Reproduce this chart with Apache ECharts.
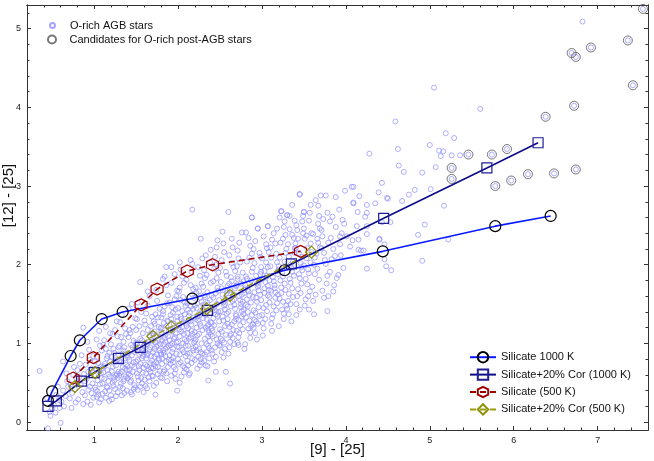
<!DOCTYPE html>
<html>
<head>
<meta charset="utf-8">
<title>[12]-[25] vs [9]-[25]</title>
<script src="https://cdn.jsdelivr.net/npm/echarts@6/dist/echarts.min.js"></script>
<style>
  html, body { margin: 0; padding: 0; background: #fff; }
  #chart { width: 654px; height: 461px; }
</style>
</head>
<body>
<div id="chart"></div>
<script>
// tick labels
const xTicks = [1, 2, 3, 4, 5, 6, 7];
const yTicks = [0, 1, 2, 3, 4, 5];
const xMinor = [0.4, 0.6, 0.8, 1.2, 1.4, 1.6, 1.8, 2.2, 2.4, 2.6, 2.8, 3.2, 3.4, 3.6, 3.8, 4.2, 4.4, 4.6, 4.8,
  5.2, 5.4, 5.6, 5.8, 6.2, 6.4, 6.6, 6.8, 7.2, 7.4];
const yMinor = [0.2, 0.4, 0.6, 0.8, 1.2, 1.4, 1.6, 1.8, 2.2, 2.4, 2.6, 2.8, 3.2, 3.4, 3.6, 3.8, 4.2, 4.4, 4.6, 4.8, 5.2];

// O-rich AGB stars, [9]-[25] vs [12]-[25]
const agbLow = [
  [0.35,0.65],[0.45,-0.08],[0.47,0.13],[0.48,0.08],[0.60,-0.01],[0.50,0.17],[0.44,0.30],
  [0.52,0.22],[0.55,0.35],[0.58,0.28],[0.57,0.45],[0.54,0.12],[0.59,0.18],
  [0.61,0.26],[0.63,0.40],[0.66,0.33],[0.68,0.52],[0.64,0.20],[0.69,0.45],[0.63,0.77],[0.67,0.62],
  [0.71,0.30],[0.72,0.48],[0.74,0.37],[0.75,0.60],[0.77,0.42],[0.78,0.25],[0.79,0.55],[0.76,0.70],[0.73,0.18],
  [0.84,0.47],[0.81,0.29],[0.88,0.61],[0.83,0.74],[0.86,0.38],[0.89,0.52],[0.80,0.66],[0.87,0.23],[0.85,0.85],[0.82,0.57],[0.89,0.34],[0.87,1.20],
  [0.93,0.41],[0.97,0.68],[0.91,0.55],[0.99,0.31],[0.95,0.79],[0.92,0.26],[0.98,0.49],[0.94,0.92],[0.96,0.60],[0.90,0.73],[0.97,0.37],[0.93,0.64],[0.99,0.84],[0.95,0.45],[0.92,1.02],[0.96,0.22],
  [1.04,0.53],[1.08,0.29],[1.01,0.77],[1.06,0.64],[1.09,0.91],[1.02,0.41],[1.07,0.48],[1.03,1.05],[1.05,0.35],[1.00,0.59],[1.08,0.71],[1.04,0.83],[1.06,0.25],[1.09,0.56],[1.02,0.68],[1.07,0.97],[1.01,0.44],[1.05,0.75],[1.03,0.32],[1.08,0.62],[1.06,1.16],[1.04,0.39],
  [1.16,0.44],[1.12,0.71],[1.19,0.58],[1.10,0.36],[1.14,0.93],[1.18,0.27],[1.11,0.63],[1.15,0.81],[1.17,0.52],[1.13,0.39],[1.19,0.77],[1.12,1.04],[1.16,0.66],[1.10,0.49],[1.18,0.88],[1.14,0.31],[1.11,0.98],[1.17,0.61],[1.15,0.45],[1.13,0.74],[1.19,1.13],[1.12,0.55],[1.16,0.84],[1.10,0.69],[1.18,0.40],[1.14,1.21],
  [1.27,0.61],[1.21,0.83],[1.25,0.42],[1.29,0.95],[1.23,0.57],[1.20,0.34],[1.26,0.72],[1.28,1.09],[1.22,0.50],[1.24,0.88],[1.29,0.64],[1.21,0.29],[1.27,0.79],[1.25,1.17],[1.23,0.46],[1.26,0.59],[1.20,0.99],[1.28,0.38],[1.22,0.70],[1.24,0.53],[1.29,0.86],[1.21,0.65],[1.27,1.28],[1.25,0.76],[1.23,0.93],[1.26,0.33],[1.28,0.56],[1.22,1.12],
  [1.32,0.49],[1.38,0.73],[1.35,1.02],[1.31,0.62],[1.39,0.40],[1.34,0.87],[1.36,0.55],[1.30,0.78],[1.37,1.19],[1.33,0.34],[1.39,0.66],[1.35,0.91],[1.31,0.45],[1.37,0.81],[1.32,1.08],[1.38,0.58],[1.34,0.70],[1.30,0.97],[1.36,0.37],[1.33,0.64],[1.39,0.85],[1.35,0.52],[1.31,1.27],[1.37,0.68],[1.32,0.76],[1.38,1.12],[1.34,0.43],[1.36,0.95],[1.30,0.59],[1.33,1.36],
  [1.46,0.64],[1.41,0.88],[1.48,0.47],[1.43,1.13],[1.45,0.72],[1.40,0.56],[1.49,0.93],[1.44,0.38],[1.42,0.79],[1.47,1.03],[1.41,0.61],[1.45,0.85],[1.48,0.70],[1.43,0.51],[1.46,1.21],[1.40,0.82],[1.49,0.44],[1.44,0.98],[1.42,0.66],[1.47,0.76],[1.41,1.08],[1.45,0.35],[1.48,0.89],[1.43,0.59],[1.46,0.95],[1.40,0.71],[1.49,1.32],[1.44,0.53],[1.42,1.17],[1.47,0.42],[1.41,1.44],[1.45,1.50]
];
const agbMid = [
  [1.58,0.84],[1.52,0.58],[1.55,1.06],[1.50,0.77],[1.57,0.49],[1.53,0.95],[1.59,0.69],[1.54,1.22],[1.51,0.62],[1.56,0.88],[1.58,1.13],[1.52,0.41],[1.55,0.74],[1.50,1.01],[1.57,0.81],[1.53,0.53],[1.59,0.97],[1.54,0.66],[1.51,1.31],[1.56,0.56],[1.58,0.90],[1.52,0.79],[1.55,0.45],[1.50,1.17],[1.57,1.04],[1.53,0.71],[1.59,0.38],[1.54,0.86],[1.51,0.99],[1.56,1.40],[1.58,0.63],[1.52,1.52],[1.55,1.78],[1.57,0.92],
  [1.63,0.71],[1.68,1.05],[1.61,0.89],[1.66,0.52],[1.64,1.17],[1.69,0.78],[1.62,0.62],[1.67,0.95],[1.60,1.29],[1.65,0.67],[1.68,0.84],[1.61,0.46],[1.66,1.10],[1.63,0.99],[1.69,0.59],[1.62,1.38],[1.67,0.75],[1.64,0.87],[1.60,0.54],[1.65,1.02],[1.68,1.22],[1.61,0.73],[1.66,0.92],[1.63,0.43],[1.69,1.13],[1.62,0.81],[1.67,0.64],[1.64,1.48],[1.60,0.97],[1.65,0.57],[1.68,0.69],[1.61,1.24],[1.66,1.60],[1.63,0.85],[1.69,1.34],[1.64,1.66],
  [1.74,0.96],[1.70,0.68],[1.77,1.21],[1.72,0.83],[1.79,0.57],[1.75,1.09],[1.71,0.74],[1.78,0.91],[1.73,1.37],[1.76,0.61],[1.70,1.03],[1.77,0.79],[1.72,1.15],[1.79,0.88],[1.74,0.50],[1.71,1.28],[1.76,0.98],[1.73,0.71],[1.78,1.44],[1.75,0.86],[1.70,0.58],[1.77,1.06],[1.72,0.93],[1.79,1.19],[1.74,0.76],[1.71,0.46],[1.76,1.33],[1.73,1.01],[1.78,0.65],[1.75,1.54],[1.70,0.89],[1.77,0.81],[1.72,1.25],[1.79,0.99],[1.74,1.68],[1.71,1.12],[1.76,0.70],[1.73,0.35],
  [1.85,1.02],[1.81,0.74],[1.88,1.28],[1.83,0.88],[1.86,0.62],[1.80,1.14],[1.87,0.95],[1.82,1.41],[1.89,0.79],[1.84,1.07],[1.81,0.56],[1.86,1.22],[1.83,0.99],[1.88,0.70],[1.80,1.33],[1.85,0.84],[1.87,1.51],[1.82,0.91],[1.89,1.17],[1.84,0.66],[1.81,1.04],[1.86,0.77],[1.83,1.26],[1.88,1.61],[1.80,0.86],[1.85,1.11],[1.87,0.52],[1.82,1.37],[1.89,0.97],[1.84,1.47],[1.81,0.81],[1.86,1.74],[1.83,0.64],[1.88,1.09],[1.80,1.20],[1.85,0.93],[1.87,1.29],[1.82,1.82],[1.84,1.85],[1.86,1.97],
  [1.96,1.08],[1.92,0.79],[1.99,1.34],[1.94,0.93],[1.91,1.18],[1.97,0.67],[1.93,1.46],[1.98,1.01],[1.90,0.85],[1.95,1.25],[1.92,0.59],[1.99,0.96],[1.94,1.39],[1.97,1.13],[1.91,0.74],[1.96,1.56],[1.93,0.89],[1.98,1.21],[1.90,1.04],[1.95,0.70],[1.92,1.31],[1.99,1.67],[1.94,0.82],[1.97,1.43],[1.91,0.98],[1.96,0.62],[1.93,1.15],[1.98,0.87],[1.90,1.52],[1.95,1.06],[1.92,1.77],[1.99,1.28],[1.94,0.76],[1.97,0.55],[1.91,1.36],[1.96,1.88],[1.93,1.00],[1.98,1.60],[1.92,1.97],[1.99,0.40],
  [2.07,1.12],[2.02,0.86],[2.05,1.41],[2.09,0.97],[2.01,1.23],[2.06,0.71],[2.03,1.55],[2.08,1.05],[2.00,0.80],[2.04,1.31],[2.07,0.63],[2.02,1.18],[2.09,1.48],[2.05,0.92],[2.01,1.66],[2.06,1.27],[2.03,0.76],[2.08,1.37],[2.00,1.02],[2.04,0.58],[2.07,1.77],[2.02,1.09],[2.09,0.84],[2.05,1.21],[2.01,0.95],[2.06,1.59],[2.03,1.34],[2.08,0.69],[2.00,1.45],[2.04,1.15],[2.07,0.89],[2.02,1.71],[2.09,1.26],[2.05,1.85],[2.01,0.74],[2.06,1.00],[2.03,1.94],[2.08,1.52],[2.02,2.03],[2.02,0.50],
  [2.12,1.19],[2.18,0.91],[2.15,1.47],[2.10,1.03],[2.16,0.75],[2.13,1.30],[2.19,1.58],[2.11,0.87],[2.17,1.12],[2.14,1.39],[2.10,0.67],[2.16,1.24],[2.12,0.97],[2.18,1.69],[2.15,1.08],[2.11,1.51],[2.17,0.81],[2.13,1.35],[2.19,1.01],[2.14,0.62],[2.10,1.81],[2.16,1.16],[2.12,1.43],[2.18,0.94],[2.15,1.28],[2.11,0.78],[2.17,1.62],[2.13,1.06],[2.19,1.33],[2.14,0.88],[2.10,1.22],[2.16,1.91],[2.12,0.72],[2.18,1.44],[2.15,1.74],[2.11,1.13],[2.17,2.01],[2.13,0.60],[2.15,2.06],[2.17,2.70],
  [2.26,1.25],[2.21,0.96],[2.28,1.53],[2.23,1.10],[2.20,0.79],[2.25,1.38],[2.29,1.17],[2.22,1.64],[2.27,0.89],[2.24,1.29],[2.20,1.48],[2.26,0.72],[2.21,1.05],[2.28,1.76],[2.23,1.34],[2.25,0.93],[2.29,1.42],[2.22,1.20],[2.27,1.58],[2.24,0.83],[2.20,1.14],[2.26,1.86],[2.21,1.31],[2.28,1.00],[2.23,0.68],[2.25,1.66],[2.29,0.87],[2.22,1.45],[2.27,1.22],[2.24,1.97],[2.20,1.03],[2.26,1.36],[2.21,1.71],[2.28,0.76],[2.23,1.51],[2.25,1.12],[2.29,2.08],[2.22,0.91],[2.27,2.33],[2.27,0.80],
  [2.34,1.31],[2.38,1.03],[2.31,1.61],[2.36,1.17],[2.32,0.86],[2.39,1.44],[2.35,1.22],[2.30,1.72],[2.37,0.94],[2.33,1.36],[2.38,1.55],[2.31,0.78],[2.36,1.09],[2.32,1.83],[2.39,1.27],[2.34,0.99],[2.30,1.49],[2.35,1.65],[2.37,1.14],[2.33,0.72],[2.38,1.39],[2.31,1.93],[2.36,1.24],[2.32,1.06],[2.39,1.77],[2.34,0.89],[2.30,1.32],[2.35,1.52],[2.37,0.81],[2.33,1.20],[2.38,2.03],[2.31,1.42],[2.36,0.97],[2.32,1.59],[2.39,1.11],[2.34,1.87],[2.36,0.53],[2.35,0.71],[2.39,2.19],[2.33,2.12],
  [2.45,1.37],[2.41,1.09],[2.48,1.67],[2.43,1.23],[2.40,0.91],[2.46,1.50],[2.49,1.28],[2.42,1.79],[2.47,1.00],[2.44,1.42],[2.40,1.61],[2.45,0.83],[2.41,1.16],[2.48,1.90],[2.43,1.46],[2.46,1.05],[2.49,1.55],[2.42,1.32],[2.47,1.71],[2.44,0.95],[2.40,1.26],[2.45,2.00],[2.41,1.44],[2.48,1.12],[2.43,0.77],[2.46,1.83],[2.49,0.98],[2.42,1.58],[2.47,1.35],[2.44,2.10],[2.40,1.19],[2.45,1.64],[2.41,0.87],[2.48,1.40],[2.43,1.95],[2.46,2.22],[2.45,0.64],[2.47,2.31]
];
const agbHigh = [
  [2.56,1.43],[2.52,1.15],[2.59,1.73],[2.54,1.29],[2.50,0.97],[2.57,1.56],[2.53,1.34],[2.58,1.86],[2.51,1.06],[2.55,1.48],[2.59,1.67],[2.52,0.89],[2.56,1.22],[2.50,1.96],[2.54,1.52],[2.57,1.11],[2.53,1.62],[2.58,1.38],[2.51,1.78],[2.55,1.01],[2.59,1.31],[2.52,2.06],[2.56,1.50],[2.50,1.18],[2.54,0.82],[2.57,1.91],[2.53,1.04],[2.58,1.64],[2.51,1.41],[2.55,2.16],[2.59,1.25],[2.52,1.70],[2.56,0.93],[2.54,2.27],[2.57,0.64],[2.53,2.42],
  [2.67,1.49],[2.61,1.21],[2.64,1.79],[2.69,1.35],[2.62,1.02],[2.66,1.62],[2.60,1.40],[2.68,1.92],[2.63,1.12],[2.65,1.54],[2.69,1.73],[2.61,0.95],[2.67,1.28],[2.64,2.02],[2.60,1.58],[2.66,1.17],[2.62,1.68],[2.68,1.44],[2.63,1.84],[2.65,1.07],[2.69,1.37],[2.61,2.12],[2.67,1.56],[2.64,1.24],[2.60,0.87],[2.66,1.97],[2.62,1.10],[2.68,1.70],[2.63,1.47],[2.65,2.22],[2.69,1.31],[2.61,1.76],[2.67,0.99],[2.64,2.33],[2.62,0.49],[2.60,2.67],
  [2.74,1.55],[2.78,1.27],[2.71,1.85],[2.76,1.41],[2.72,1.08],[2.79,1.68],[2.75,1.46],[2.70,1.98],[2.77,1.18],[2.73,1.60],[2.78,1.79],[2.71,1.01],[2.76,1.34],[2.72,2.08],[2.79,1.64],[2.74,1.23],[2.70,1.74],[2.75,1.50],[2.77,1.90],[2.73,1.13],[2.78,1.43],[2.71,2.18],[2.76,1.62],[2.72,1.30],[2.79,0.93],[2.74,2.03],[2.70,1.16],[2.75,1.76],[2.77,1.53],[2.73,2.28],[2.78,1.37],[2.71,1.82],[2.76,2.41],[2.72,0.98],
  [2.85,1.61],[2.81,1.33],[2.88,1.91],[2.83,1.47],[2.86,1.14],[2.80,1.74],[2.87,1.52],[2.82,2.04],[2.89,1.24],[2.84,1.66],[2.81,1.85],[2.86,1.07],[2.83,1.40],[2.88,2.14],[2.80,1.70],[2.85,1.29],[2.87,1.80],[2.82,1.56],[2.89,1.96],[2.84,1.19],[2.81,1.49],[2.86,2.24],[2.83,1.68],[2.88,1.36],[2.80,0.99],[2.85,2.09],[2.87,1.22],[2.82,1.82],[2.89,1.59],[2.84,2.34],[2.81,2.41],[2.88,2.60],
  [2.96,1.67],[2.92,1.39],[2.99,1.97],[2.94,1.53],[2.90,1.20],[2.97,1.80],[2.93,1.58],[2.98,2.10],[2.91,1.30],[2.95,1.72],[2.99,1.91],[2.92,1.13],[2.96,1.46],[2.90,2.20],[2.94,1.76],[2.97,1.35],[2.93,1.86],[2.98,1.62],[2.91,2.02],[2.95,1.25],[2.99,1.55],[2.92,2.30],[2.96,1.74],[2.90,1.42],[2.94,1.05],[2.97,2.15],[2.93,1.28],[2.98,1.88],[2.95,2.46],[2.91,1.65],
  [3.07,1.73],[3.02,1.45],[3.05,2.03],[3.09,1.59],[3.01,1.26],[3.06,1.86],[3.03,1.64],[3.08,2.16],[3.00,1.36],[3.04,1.78],[3.07,1.97],[3.02,1.19],[3.09,1.52],[3.05,2.26],[3.01,1.82],[3.06,1.41],[3.03,1.92],[3.08,1.68],[3.00,2.08],[3.04,1.31],[3.07,1.61],[3.02,2.36],[3.09,1.80],[3.05,1.49],[3.01,1.10],[3.06,2.21],[3.07,2.49],[3.03,1.70],
  [3.14,1.79],[3.18,1.51],[3.11,2.09],[3.16,1.65],[3.12,1.32],[3.19,1.92],[3.15,1.70],[3.10,2.22],[3.17,1.42],[3.13,1.84],[3.18,2.03],[3.11,1.25],[3.16,1.58],[3.12,2.32],[3.19,1.88],[3.14,1.47],[3.10,1.98],[3.15,1.74],[3.17,2.14],[3.13,1.37],[3.18,2.46],[3.11,1.67],[3.16,2.27],[3.12,1.16],[3.19,1.62],[3.14,2.40],
  [3.25,1.85],[3.21,1.57],[3.28,2.15],[3.23,1.71],[3.26,1.38],[3.20,1.98],[3.27,1.76],[3.22,2.28],[3.29,1.48],[3.24,1.90],[3.21,2.09],[3.26,1.31],[3.23,1.64],[3.28,2.38],[3.20,1.94],[3.25,1.53],[3.27,2.04],[3.22,1.80],[3.29,2.20],[3.24,1.43],[3.21,2.60],[3.26,2.48],[3.23,2.68],[3.28,1.68],[3.20,1.22],[3.25,2.33],[3.27,2.55],[3.29,1.96],
  [3.36,1.91],[3.32,1.63],[3.39,2.21],[3.34,1.77],[3.30,1.44],[3.37,2.04],[3.33,1.82],[3.38,2.34],[3.31,1.54],[3.35,1.96],[3.39,2.15],[3.32,1.37],[3.36,1.70],[3.30,2.63],[3.34,2.00],[3.37,1.59],[3.33,2.45],[3.38,1.86],[3.31,2.26],[3.35,1.28],[3.39,2.56],[3.32,2.10],[3.36,2.38],[3.34,1.50],[3.33,2.62],[3.36,2.76],
  [3.47,1.97],[3.43,1.69],[3.40,2.27],[3.45,1.83],[3.41,1.50],[3.48,2.10],[3.44,1.88],[3.49,2.40],[3.42,1.60],[3.46,2.02],[3.40,2.21],[3.45,1.43],[3.47,1.76],[3.41,2.50],[3.48,1.93],[3.43,2.33],[3.49,2.62],[3.44,2.15],[3.42,2.44],[3.46,1.64],[3.45,2.89],[3.50,2.67],[3.41,1.36],[3.48,2.55]
];
const agbTail = [
  [3.58,2.03],[3.54,1.75],[3.51,2.33],[3.56,1.89],[3.52,1.56],[3.59,2.16],[3.55,1.94],[3.50,2.46],[3.57,1.66],[3.53,2.08],[3.58,2.27],[3.51,1.48],[3.56,2.56],[3.52,1.82],[3.59,2.40],[3.54,2.21],[3.57,2.66],[3.55,1.60],[3.53,2.37],[3.50,1.99],[3.58,2.76],[3.56,1.43],
  [3.63,2.09],[3.68,1.81],[3.61,2.39],[3.66,1.95],[3.64,1.62],[3.69,2.22],[3.62,2.00],[3.67,2.52],[3.60,1.72],[3.65,2.14],[3.68,2.62],[3.61,1.54],[3.66,2.33],[3.63,1.88],[3.69,2.46],[3.64,2.82],[3.62,1.37],[3.67,2.28],
  [3.74,2.15],[3.78,1.86],[3.71,2.44],[3.76,2.01],[3.72,1.67],[3.79,2.28],[3.75,2.06],[3.73,2.58],[3.77,1.76],[3.71,2.21],[3.78,2.66],[3.74,1.58],[3.76,2.88],[3.72,2.36],[3.78,1.41],[3.79,1.60],
  [3.85,2.20],[3.81,1.91],[3.88,2.48],[3.83,2.07],[3.86,1.74],[3.82,2.34],[3.87,2.11],[3.84,2.61],[3.89,1.83],[3.81,2.55],[3.88,2.86],[3.85,1.66],
  [3.93,2.26],[3.97,1.96],[3.91,1.87],[3.95,2.40],[3.92,2.70],[3.98,2.52],[3.94,2.12],[3.99,2.94],[3.96,2.57],[3.93,2.36],
  [4.05,2.23],[4.15,2.32],[4.15,2.19],[4.21,2.18],[4.25,2.39],[4.40,2.33],[4.46,2.26],[4.25,1.95],[4.46,2.07],[4.48,1.98],[4.54,1.93],[4.18,2.18],
  [4.07,2.99],[4.09,2.99],[4.16,2.87],[4.09,2.79],[4.25,2.76],[4.35,2.78],[4.09,2.78],[4.01,2.36],[4.08,2.31],[4.14,2.67],[4.23,2.61],[4.25,2.49],[4.13,2.49],[4.25,2.66],
  [4.39,2.92],[4.43,3.04],[4.50,2.84],[4.67,2.81],[4.75,2.89],[4.82,2.95],[5.01,2.96],[4.43,2.54],[4.53,2.54],[4.49,2.85],[4.40,2.32],
  [4.86,2.38],[5.22,2.32],[4.91,2.05],[5.17,2.75],[4.94,2.51],
  [4.28,3.41],[4.62,3.47],[4.63,3.26],[4.69,3.18],[4.91,3.17],[5.00,3.52],[5.11,3.45],[5.16,3.44],[5.13,3.38],[5.26,3.39],[5.36,3.39],[5.07,3.24],
  [5.19,3.67],[5.29,3.61],[4.59,3.82],[5.05,4.25],[5.60,3.98],[6.82,5.09],
  [3.45,2.90],[3.70,2.88],[3.23,2.68],[3.30,2.63],[3.50,2.67],[3.67,2.75],[2.88,2.60],[3.07,2.49],[2.95,2.46]
];

// Candidates for O-rich post-AGB stars
const candidates = [
  [7.54,5.25],[7.36,4.85],[6.92,4.76],[6.69,4.69],[6.74,4.64],[7.42,4.28],[6.72,4.02],[6.38,3.88],
  [5.92,3.47],[5.74,3.40],[5.46,3.40],[5.26,3.23],[5.26,3.09],[5.78,3.00],[5.97,3.07],[6.17,3.15],[6.48,3.16],[6.74,3.21]
];

// model tracks
const sil1000X = [0.45, 0.50, 0.72, 0.83, 1.09, 1.34, 2.17, 3.27, 4.44, 5.78, 6.44];
const sil1000Y = [0.27, 0.39, 0.84, 1.04, 1.31, 1.40, 1.57, 1.93, 2.17, 2.49, 2.62];
const cor1000X = [0.45, 0.55, 0.85, 1.00, 1.29, 1.55, 2.35, 3.35, 4.45, 5.68, 6.29];
const cor1000Y = [0.20, 0.27, 0.52, 0.63, 0.81, 0.95, 1.42, 2.01, 2.59, 3.23, 3.55];
const sil500X = [0.75, 0.99, 1.56, 1.75, 2.11, 2.41, 3.46];
const sil500Y = [0.56, 0.82, 1.49, 1.69, 1.92, 2.00, 2.17];
const cor500X = [0.77, 1.01, 1.70, 1.92, 2.34, 2.62, 3.59];
const cor500Y = [0.45, 0.63, 1.09, 1.21, 1.44, 1.61, 2.16];

const zip = (xs, ys) => xs.map((x, i) => [x, ys[i]]);
const agbStars = agbLow.concat(agbMid, agbHigh, agbTail, candidates);

const FONT = '"Liberation Sans", Arial, sans-serif';
const AX = '#333';
const hexagon = 'path://M0,-10L8.66,-5L8.66,5L0,10L-8.66,5L-8.66,-5Z';

function xAx(position, ticks, len, labels) {
  return {
    type: 'value', min: 0.2, max: 7.6, position: position,
    axisLine: { show: true, onZero: false, lineStyle: { color: AX, width: 1 } },
    axisTick: { show: true, inside: true, length: len, customValues: ticks, lineStyle: { color: AX } },
    axisLabel: labels ? { show: true, customValues: xTicks, fontSize: 9, color: '#222', margin: 6, fontFamily: FONT } : { show: false },
    splitLine: { show: false }
  };
}
function yAx(position, ticks, len, labels) {
  return {
    type: 'value', min: -0.1, max: 5.3, position: position,
    axisLine: { show: true, onZero: false, lineStyle: { color: AX, width: 1 } },
    axisTick: { show: true, inside: true, length: len, customValues: ticks, lineStyle: { color: AX } },
    axisLabel: labels ? { show: true, customValues: yTicks, fontSize: 9, color: '#222', margin: 6, fontFamily: FONT } : { show: false },
    splitLine: { show: false }
  };
}

const xMain = xAx('bottom', xTicks, 4, true);
xMain.name = '[9] - [25]';
xMain.nameLocation = 'middle';
xMain.nameGap = 12;
xMain.nameMoveOverlap = false;
xMain.nameTextStyle = { fontSize: 15, color: '#111', fontFamily: FONT };
const yMain = yAx('left', yTicks, 4, true);
yMain.name = '[12] - [25]';
yMain.nameLocation = 'middle';
yMain.nameGap = 11;
yMain.nameMoveOverlap = false;
yMain.nameTextStyle = { fontSize: 15, color: '#111', fontFamily: FONT, padding: [0, 0, 0, 44] };

function track(name, xs, ys, lineColor, markColor, symbol, size, dashed) {
  return {
    name: name, type: 'line', data: zip(xs, ys), z: 5,
    symbol: symbol, symbolSize: size, showSymbol: true,
    lineStyle: { color: lineColor, width: 1.6, type: dashed ? [6, 4] : 'solid' },
    itemStyle: { color: 'rgba(0,0,0,0)', borderColor: markColor, borderWidth: 1.2 },
    emphasis: { disabled: true }
  };
}

const chart = echarts.init(document.getElementById('chart'), null, { renderer: 'canvas' });
chart.setOption({
  animation: false,
  textStyle: { fontFamily: FONT },
  grid: { left: 27, right: 6, top: 5, bottom: 31, containLabel: false, outerBoundsMode: 'none' },
  xAxis: [xMain, xAx('bottom', xMinor, 2.5, false), xAx('top', xTicks, 4, false), xAx('top', xMinor, 2.5, false)],
  yAxis: [yMain, yAx('left', yMinor, 2.5, false), yAx('right', yTicks, 4, false), yAx('right', yMinor, 2.5, false)],
  legend: [
    { data: ['O-rich AGB stars'], left: 44, top: 15, itemWidth: 25, itemHeight: 5,
      textStyle: { fontSize: 11, color: '#111', fontFamily: FONT } },
    { data: ['Candidates for O-rich post-AGB stars'], left: 42, top: 29, itemWidth: 25, itemHeight: 8,
      textStyle: { fontSize: 11, color: '#111', fontFamily: FONT } },
    { data: ['Silicate 1000 K', 'Silicate+20% Cor (1000 K)', 'Silicate (500 K)', 'Silicate+20% Cor (500 K)'],
      orient: 'vertical', left: 464, top: 346, itemWidth: 26, itemHeight: 13, itemGap: 5,
      textStyle: { fontSize: 11, color: '#111', fontFamily: FONT } }
  ],
  series: [
    { name: 'O-rich AGB stars', type: 'scatter', data: agbStars, symbol: 'circle', symbolSize: 5, z: 2,
      itemStyle: { color: 'rgba(0,0,0,0)', borderColor: '#8f8fff', borderWidth: 0.9 },
      emphasis: { disabled: true } },
    { name: 'Candidates for O-rich post-AGB stars', type: 'scatter', data: candidates, symbol: 'circle', symbolSize: 9, z: 3,
      itemStyle: { color: 'rgba(0,0,0,0)', borderColor: '#555', borderWidth: 1 },
      emphasis: { disabled: true } },
    track('Silicate 1000 K', sil1000X, sil1000Y, '#0a1aff', '#000', 'circle', 11, false),
    track('Silicate+20% Cor (1000 K)', cor1000X, cor1000Y, '#0c0c8a', '#1e1e96', 'rect', 10, false),
    track('Silicate (500 K)', sil500X, sil500Y, '#9a0000', '#a00000', hexagon, 12, true),
    track('Silicate+20% Cor (500 K)', cor500X, cor500Y, '#9c9c10', '#8f8f00', 'diamond', 12, true)
  ]
});
</script>
</body>
</html>
